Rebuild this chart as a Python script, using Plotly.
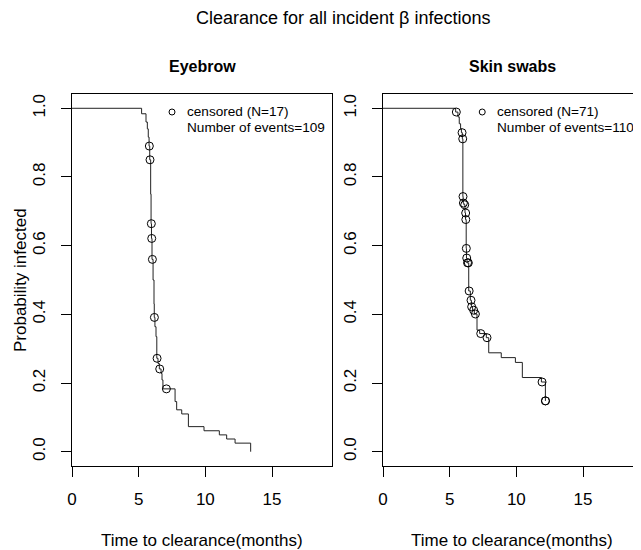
import plotly.graph_objects as go

# ---- Eyebrow (Kaplan-Meier step values) ----
eb_time = [0, 5.22, 5.55, 5.65, 5.72, 5.78, 5.83, 5.90, 5.93, 5.96, 6.00, 6.08, 6.15, 6.17,
           6.22, 6.30, 6.36, 6.45, 6.55, 6.68, 6.75, 6.82, 7.73, 7.85, 8.23, 8.73, 9.90,
           11.05, 11.60, 12.23, 13.40]
eb_surv = [1.0, 0.984, 0.96, 0.94, 0.916, 0.89, 0.85, 0.75, 0.664, 0.621, 0.56, 0.50, 0.43, 0.391,
           0.364, 0.335, 0.272, 0.257, 0.241, 0.228, 0.209, 0.183, 0.146, 0.122, 0.110, 0.073, 0.061,
           0.049, 0.037, 0.025, 0.0]
eb_cens_time = [5.80, 5.85, 5.95, 5.98, 6.03, 6.18, 6.38, 6.58, 7.08]
eb_cens_surv = [0.89, 0.85, 0.664, 0.621, 0.56, 0.391, 0.272, 0.241, 0.183]

# ---- Skin swabs ----
ss_time = [0, 5.45, 5.62, 5.72, 5.82, 5.88, 5.95, 5.99, 6.01, 6.07, 6.15, 6.19, 6.24, 6.26,
           6.30, 6.43, 6.55, 6.63, 6.72, 6.85, 7.05, 7.25, 7.75, 7.93, 8.87, 9.93, 10.45,
           11.88, 12.18]
ss_surv = [1.0, 0.989, 0.975, 0.955, 0.94, 0.929, 0.911, 0.743, 0.724, 0.719, 0.695, 0.676, 0.592, 0.564,
           0.55, 0.468, 0.441, 0.422, 0.412, 0.401, 0.354, 0.344, 0.332, 0.288, 0.274, 0.26, 0.216,
           0.203, 0.148]
ss_cens_time = [5.50, 5.93, 5.98, 6.00, 6.03, 6.13, 6.20, 6.21, 6.25, 6.28, 6.34, 6.40, 6.46,
                6.60, 6.65, 6.80, 6.93, 7.33, 7.80, 11.93, 12.18, 12.19]
ss_cens_surv = [0.989, 0.929, 0.911, 0.743, 0.724, 0.719, 0.695, 0.676, 0.592, 0.564, 0.55, 0.55, 0.468,
                0.441, 0.422, 0.412, 0.401, 0.344, 0.332, 0.203, 0.148, 0.148]

x_ticks = [0, 5, 10, 15]
y_ticks = [0.0, 0.2, 0.4, 0.6, 0.8, 1.0]
y_ticktext = ["0.0", "0.2", "0.4", "0.6", "0.8", "1.0"]

panel_titles = ["Eyebrow", "Skin swabs"]
legend_line1 = ["censored (N=17)", "censored (N=71)"]
legend_line2 = ["Number of events=109", "Number of events=110"]

FONT = "Liberation Sans, Arial, sans-serif"
LINE = "#222222"

# page body has an 8px margin: size the figure so it fills the 641x550 window
OFF = 8
W, H = 641 - OFF, 550 - OFF


def px(x):
    return (x - OFF) / W


def py(y):
    return 1 - (y - OFF) / H


fig = go.Figure()
fig.add_trace(go.Scatter(x=eb_time, y=eb_surv, mode="lines", line=dict(shape="hv", color=LINE, width=1),
                         xaxis="x", yaxis="y", showlegend=False, hoverinfo="skip"))
fig.add_trace(go.Scatter(x=eb_cens_time, y=eb_cens_surv, mode="markers",
                         marker=dict(symbol="circle-open", size=8, color="black", line=dict(width=1)),
                         xaxis="x", yaxis="y", showlegend=False))
fig.add_trace(go.Scatter(x=ss_time, y=ss_surv, mode="lines", line=dict(shape="hv", color=LINE, width=1),
                         xaxis="x2", yaxis="y2", showlegend=False, hoverinfo="skip"))
fig.add_trace(go.Scatter(x=ss_cens_time, y=ss_cens_surv, mode="markers",
                         marker=dict(symbol="circle-open", size=8, color="black", line=dict(width=1)),
                         xaxis="x2", yaxis="y2", showlegend=False))

ydom = [py(466), py(94)]
axis_common = dict(showgrid=False, zeroline=False, showline=True, linecolor="black", linewidth=1,
                   ticks="outside", ticklen=10, tickwidth=1, tickcolor="black",
                   tickfont=dict(family=FONT, size=17, color="black"), automargin=False)

fig.update_layout(
    width=W, height=H, margin=dict(l=0, r=0, t=0, b=0),
    paper_bgcolor="white", plot_bgcolor="white", template="none",
    xaxis=dict(domain=[px(72), px(332)], range=[0, 19.5], tickvals=x_ticks, mirror=True,
               anchor="y", ticklabelstandoff=8, **axis_common),
    yaxis=dict(domain=ydom, range=[-0.0416, 1.0416], tickvals=y_ticks, ticktext=y_ticktext,
               tickangle=-90, mirror=True, anchor="x", ticklabelstandoff=9, **axis_common),
    xaxis2=dict(domain=[px(383), 1.0], range=[0, (641 - 383) / 13.333], tickvals=x_ticks, mirror=True,
                anchor="y2", ticklabelstandoff=8, **axis_common),
    yaxis2=dict(domain=ydom, range=[-0.0416, 1.0416], tickvals=y_ticks, ticktext=y_ticktext,
                tickangle=-90, anchor="x2", ticklabelstandoff=9, **axis_common),
    showlegend=False,
)

ann = []
ann.append(dict(text="Clearance for all incident \u03b2 infections", x=px(343), y=py(18),
                xref="paper", yref="paper", showarrow=False, xanchor="center", yanchor="middle",
                font=dict(family=FONT, size=18, color="black")))
centers = [202, 512]
for i, (xa, ya) in enumerate([("x", "y"), ("x2", "y2")]):
    ann.append(dict(text="<b>%s</b>" % panel_titles[i], x=px(centers[i]), y=py(67),
                    xref="paper", yref="paper", showarrow=False, xanchor="center",
                    yanchor="middle", font=dict(family=FONT, size=16, color="black")))
    ann.append(dict(text="Time to clearance(months)", x=px(centers[i]), y=py(540),
                    xref="paper", yref="paper", showarrow=False, xanchor="center",
                    yanchor="middle", font=dict(family=FONT, size=17, color="black")))
    ann.append(dict(text=legend_line1[i], x=113 / 260, y=(466 - 112) / 372,
                    xref=xa + " domain", yref=ya + " domain", showarrow=False, xanchor="left",
                    yanchor="middle", font=dict(family=FONT, size=13.6, color="black")))
    ann.append(dict(text=legend_line2[i], x=113 / 260, y=(466 - 128) / 372,
                    xref=xa + " domain", yref=ya + " domain", showarrow=False, xanchor="left",
                    yanchor="middle", font=dict(family=FONT, size=13.6, color="black")))
ann.append(dict(text="Probability infected", x=px(20), y=py(280), xref="paper", yref="paper",
                showarrow=False, textangle=-90, xanchor="center", yanchor="middle",
                font=dict(family=FONT, size=17, color="black")))

shapes = []
for xa, ya in [("x", "y"), ("x2", "y2")]:
    shapes.append(dict(type="circle", xref=xa + " domain", yref=ya + " domain",
                       xsizemode="pixel", ysizemode="pixel",
                       xanchor=100 / 260, yanchor=(466 - 112) / 372,
                       x0=-3, x1=3, y0=-3, y1=3, line=dict(color="black", width=1)))

fig.update_layout(annotations=ann, shapes=shapes)
fig.write_html("out.html")
